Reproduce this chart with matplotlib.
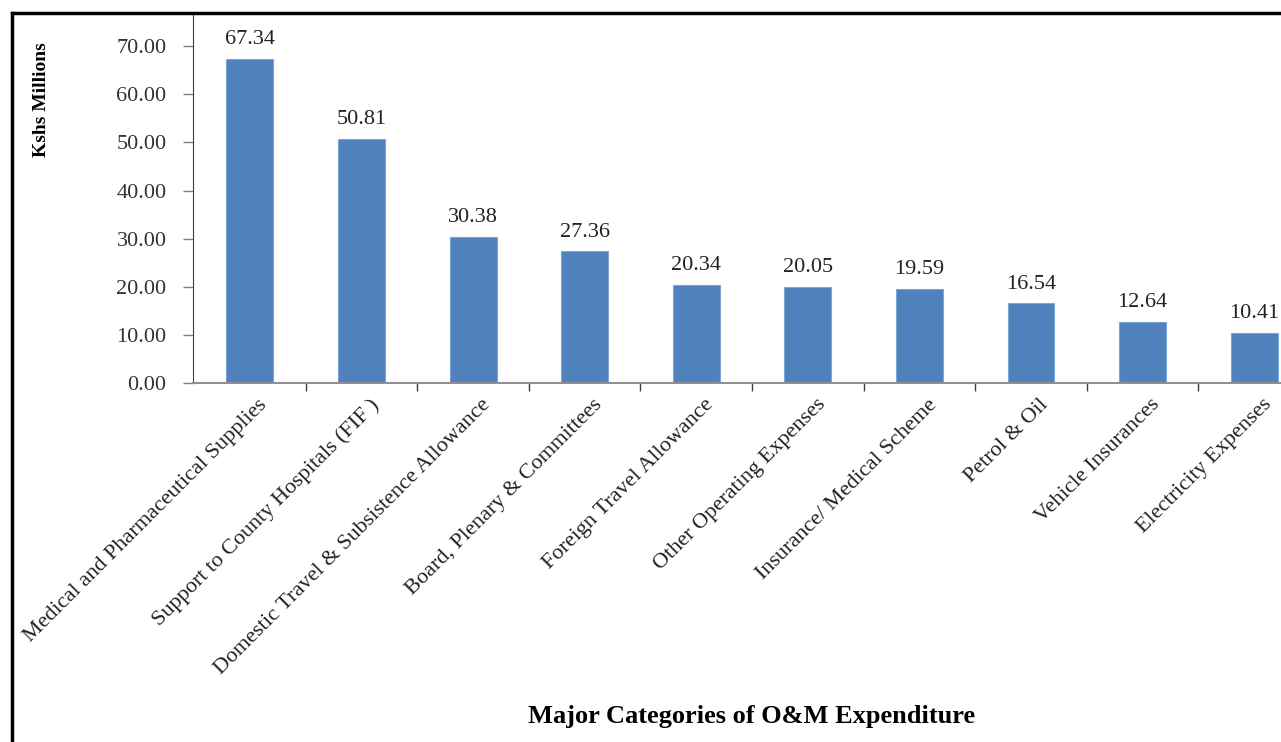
import numpy as np
import matplotlib
from matplotlib import pyplot as plt
from matplotlib.lines import Line2D
import matplotlib.transforms as mtransforms

matplotlib.use('agg')

categories = [
    "Medical and Pharmaceutical Supplies",
    "Support to County Hospitals (FIF )",
    "Domestic Travel & Subsistence Allowance",
    "Board, Plenary & Committees",
    "Foreign Travel Allowance",
    "Other Operating Expenses",
    "Insurance/ Medical Scheme",
    "Petrol & Oil",
    "Vehicle Insurances",
    "Electricity Expenses",
]
values = [67.34, 50.81, 30.38, 27.36, 20.34, 20.05, 19.59, 16.54, 12.64, 10.41]
yticks = [0, 10, 20, 30, 40, 50, 60, 70]

plt.rcParams['font.family'] = ['Liberation Serif', 'DejaVu Serif']

W, H = 1281, 742
fig = plt.figure(figsize=(W / 100, H / 100), dpi=100)
ax = fig.add_axes([193 / W, 1 - 383 / H, 1 - 193 / W, (383 - 13) / H])

x = np.arange(len(categories))
bars = ax.bar(x, values, width=0.42, color='#4F81BD', edgecolor='#7FA4D2', linewidth=0.8, zorder=2)

for xi, v in zip(x, values):
    ax.annotate(f"{v:.2f}", (xi, v), xytext=(0, 7), textcoords='offset points',
                ha='center', va='bottom', fontsize=16, color='#222222')

ax.set_xlim(-0.51, 9.24)
ax.set_ylim(0, 76.9)
ax.set_yticks(yticks)
ax.set_yticklabels([f"{t:.2f}" for t in yticks], fontsize=16, color='#333333')
ax.tick_params(axis='y', direction='out', length=7, width=1, color='#808080', pad=12)

ax.set_xticks(x)
ax.set_xticklabels(categories, rotation=45, ha='right', rotation_mode='anchor', fontsize=16, color='#222222')
ax.tick_params(axis='x', which='major', length=0, pad=6)
ax.set_xticks(x[:-1] + 0.5, minor=True)
ax.tick_params(axis='x', which='minor', direction='out', length=6, width=1, color='#404040')
shift = mtransforms.ScaledTranslation(8 / 100, -4 / 100, fig.dpi_scale_trans)
for lab in ax.get_xticklabels():
    lab.set_transform(lab.get_transform() + shift)

for side in ['top', 'right']:
    ax.spines[side].set_visible(False)
ax.spines['left'].set_color('#404040')
ax.spines['bottom'].set_color('#909090')
ax.spines['bottom'].set_linewidth(1.5)

fig.text(42 / W, 1 - 100 / H, "Kshs Millions", rotation=90, ha='center', va='center',
         fontsize=14, fontweight='bold')
fig.text(752 / W, 1 - 717 / H, "Major Categories of O&M Expenditure", ha='center', va='center',
         fontsize=19, fontweight='bold')

# frame around the picture (left and top edges only, the rest is cropped)
fig.add_artist(Line2D([12 / W, 12 / W], [0, 1 - 13 / H], transform=fig.transFigure, color='black', linewidth=2.5))
fig.add_artist(Line2D([12 / W, 1], [1 - 13 / H, 1 - 13 / H], transform=fig.transFigure, color='black', linewidth=2.5))

fig.savefig('out.png', dpi=100)
plt.close()
